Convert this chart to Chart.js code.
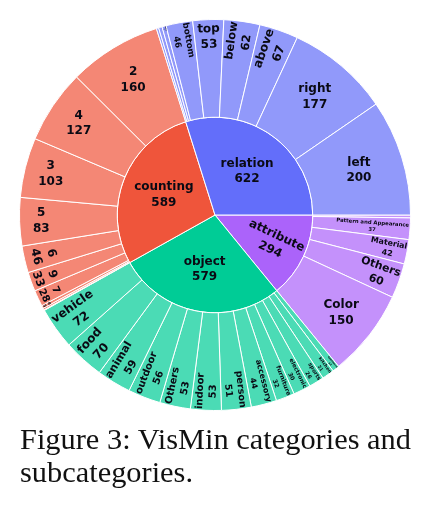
<!DOCTYPE html>
<html>
<head>
<meta charset="utf-8">
<script src="https://cdn.jsdelivr.net/npm/chart.js@4"></script>
<style>
  html, body { margin: 0; padding: 0; background: #fff; }
  #wrap { position: relative; width: 437px; height: 514px; overflow: hidden; }
  #chartBox { position: absolute; left: 0; top: 0; width: 430px; height: 430px; }
  #caption {
    position: absolute; left: 20px; top: 423px; width: 417px;
    font-family: 'Liberation Serif', 'Times New Roman', serif;
    font-size: 30.4px; line-height: 33px; color: #111;
  }
</style>
</head>
<body>
<div id="wrap">
  <div id="chartBox"><canvas id="myChart" width="430" height="430"></canvas></div>
  <div id="caption">Figure 3: VisMin categories and subcategories.</div>
</div>
<script>
// categories, clockwise starting at 3 o'clock
const categories = ['attribute', 'object', 'counting', 'relation'];
const categoryValues = [294, 579, 589, 622];

// subcategories, same clockwise order; parent = index into categories
const subLabels = [
    'Shape', 'Pattern and Appearance', 'Material', 'Others', 'Color',
    'appliance', 'kitchen', 'sports', 'electronic', 'furniture', 'accessory', 'person',
    'indoor', 'Others', 'outdoor', 'animal', 'food', 'vehicle',
    '1', '10', '8', '7', '9', '6', '5', '3', '4', '2',
    'front', 'behind', 'under', 'bottom', 'top', 'below', 'above', 'right', 'left'
];
const subValues = [
    5, 37, 42, 60, 150,
    12, 21, 26, 30, 32, 44, 51,
    53, 53, 56, 59, 70, 72,
    1, 3, 5, 28, 33, 46, 83, 103, 127, 160,
    4, 6, 7, 46, 53, 62, 67, 177, 200
];
const subParents = [
    0, 0, 0, 0, 0,
    1, 1, 1, 1, 1, 1, 1, 1, 1, 1, 1, 1, 1,
    2, 2, 2, 2, 2, 2, 2, 2, 2, 2,
    3, 3, 3, 3, 3, 3, 3, 3, 3
];

const catColors = ['#ab63fa', '#00cc96', '#ef553b', '#636efa'];
const subColors = ['#c491fb', '#4bdbb5', '#f48775', '#9199fa'];

const FONT_FAMILY = 'DejaVu Sans';
const FONT_SIZE = 12;
const TEXTPAD = 3;

// plotly-like "auto" inside text orientation
function maxHalfSize(a, halfAngle, r, ring) {
    const q = a + 1 / (2 * Math.tan(halfAngle));
    return r * Math.min(
        1 / (Math.sqrt(q * q + 0.5) + q),
        ring / (Math.sqrt(a * a + ring / 2) + a)
    );
}
function calcRotate(t) {
    return (180 / Math.PI * t + 720) % 180 - 90;
}
function fitText(w, h, r0, r1, halfAngle, midAngle) {
    const ring = 1 - r0 / r1;
    const rIns = Math.max(0, Math.min(1 / (1 + 1 / Math.sin(halfAngle)), ring / 2));
    const hor = { scale: rIns * r1 * 2 / Math.hypot(w, h), rCenter: 1 - rIns, rotate: 0 };
    if (hor.scale >= 1) return hor;
    const all = [hor];
    const r = Math.max(0, r1 - 2 * TEXTPAD);
    let a = w / h;
    let s = maxHalfSize(a, halfAngle, r, ring);
    all.push({ scale: s * 2 / h, rCenter: Math.cos(s / r) - a * s / r, rotate: calcRotate(midAngle) });
    a = h / w;
    s = maxHalfSize(a, halfAngle, r, ring);
    all.push({ scale: s * 2 / w, rCenter: Math.cos(s / r) - a * s / r, rotate: calcRotate(midAngle + Math.PI / 2) });
    let best = all[0];
    all.forEach(t => { if (t.scale > best.scale) best = t; });
    return best;
}

const sliceLabels = {
    id: 'sliceLabels',
    afterDatasetsDraw(chart) {
        const ctx = chart.ctx;
        ctx.save();
        ctx.font = `bold ${FONT_SIZE}px "${FONT_FAMILY}"`;
        ctx.fillStyle = '#0a0a14';
        ctx.textAlign = 'center';
        ctx.textBaseline = 'middle';
        chart.data.datasets.forEach((ds, di) => {
            const meta = chart.getDatasetMeta(di);
            meta.data.forEach((arc, i) => {
                const p = arc.getProps(['x', 'y', 'startAngle', 'endAngle', 'innerRadius', 'outerRadius'], true);
                const lines = [ds.labels[i], String(ds.data[i])];
                const w = Math.max(...lines.map(l => ctx.measureText(l).width));
                const h = FONT_SIZE * (1.3 * (lines.length - 1) + 1.15);
                const span = p.endAngle - p.startAngle;
                const halfAngle = 0.5 * Math.min(span, Math.PI);
                const mid = (p.startAngle + p.endAngle) / 2;
                const t = fitText(w, h, p.innerRadius, p.outerRadius, halfAngle, mid + Math.PI / 2);
                const scale = Math.min(1, t.scale);
                if (scale * FONT_SIZE < 1.5) return;
                const dist = t.rCenter * p.outerRadius;
                const cx = p.x + dist * Math.cos(mid);
                const cy = p.y + dist * Math.sin(mid);
                ctx.save();
                ctx.translate(cx, cy);
                ctx.rotate(t.rotate * Math.PI / 180);
                ctx.scale(scale, scale);
                lines.forEach((l, k) => {
                    ctx.fillText(l, 0, (k - (lines.length - 1) / 2) * 1.3 * FONT_SIZE);
                });
                ctx.restore();
            });
        });
        ctx.restore();
    }
};

const ctx = document.getElementById('myChart').getContext('2d');
const myChart = new Chart(ctx, {
    type: 'doughnut',
    data: {
        datasets: [
            {
                labels: subLabels,
                data: subValues,
                backgroundColor: subParents.map(p => subColors[p]),
                borderColor: '#ffffff',
                borderWidth: 1
            },
            {
                labels: categories,
                data: categoryValues,
                backgroundColor: catColors,
                borderColor: '#ffffff',
                borderWidth: 1
            }
        ]
    },
    options: {
        responsive: false,
        animation: false,
        events: [],
        cutout: 0,
        rotation: 90,
        layout: { padding: 19 },
        plugins: {
            legend: { display: false },
            tooltip: { enabled: false }
        }
    },
    plugins: [sliceLabels]
});
</script>
</body>
</html>
